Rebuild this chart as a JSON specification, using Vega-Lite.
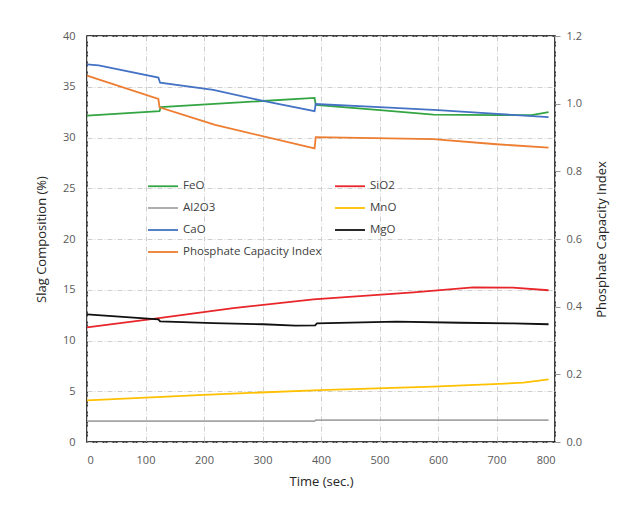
{
  "$schema": "https://vega.github.io/schema/vega-lite/v6.json",
  "width": 468,
  "height": 406,
  "autosize": {"type": "none"},
  "padding": {"left": 87, "top": 36, "right": 80, "bottom": 69},
  "background": "white",
  "config": {
    "font": "Open Sans",
    "view": {"stroke": "#000000", "strokeWidth": 1.5},
    "axis": {
      "labelColor": "#595959",
      "labelFontSize": 11,
      "titleColor": "#262626",
      "titleFontSize": 13,
      "titleFontWeight": "normal",
      "domain": false,
      "gridColor": "#cfcfcf",
      "gridDash": [5, 2, 1, 2],
      "gridWidth": 1
    }
  },
  "data": {
    "values": [
      {"s": "FeO", "t": 0, "v": 32.15},
      {"s": "FeO", "t": 124, "v": 32.6},
      {"s": "FeO", "t": 126, "v": 33.0},
      {"s": "FeO", "t": 389, "v": 33.9},
      {"s": "FeO", "t": 391, "v": 33.2},
      {"s": "FeO", "t": 501, "v": 32.7},
      {"s": "FeO", "t": 592, "v": 32.25},
      {"s": "FeO", "t": 700, "v": 32.2},
      {"s": "FeO", "t": 760, "v": 32.2},
      {"s": "FeO", "t": 789, "v": 32.5},
      {"s": "SiO2", "t": 0, "v": 11.3},
      {"s": "SiO2", "t": 110, "v": 12.1},
      {"s": "SiO2", "t": 250, "v": 13.2},
      {"s": "SiO2", "t": 387, "v": 14.05},
      {"s": "SiO2", "t": 558, "v": 14.75},
      {"s": "SiO2", "t": 660, "v": 15.24},
      {"s": "SiO2", "t": 728, "v": 15.2},
      {"s": "SiO2", "t": 789, "v": 14.95},
      {"s": "Al2O3", "t": 0, "v": 2.05},
      {"s": "Al2O3", "t": 389, "v": 2.05},
      {"s": "Al2O3", "t": 391, "v": 2.15},
      {"s": "Al2O3", "t": 789, "v": 2.15},
      {"s": "MnO", "t": 0, "v": 4.1},
      {"s": "MnO", "t": 200, "v": 4.65},
      {"s": "MnO", "t": 398, "v": 5.12},
      {"s": "MnO", "t": 592, "v": 5.45},
      {"s": "MnO", "t": 695, "v": 5.71},
      {"s": "MnO", "t": 746, "v": 5.84},
      {"s": "MnO", "t": 789, "v": 6.18},
      {"s": "CaO", "t": 0, "v": 37.2},
      {"s": "CaO", "t": 20, "v": 37.1},
      {"s": "CaO", "t": 122, "v": 35.9},
      {"s": "CaO", "t": 125, "v": 35.4},
      {"s": "CaO", "t": 216, "v": 34.7},
      {"s": "CaO", "t": 301, "v": 33.6},
      {"s": "CaO", "t": 389, "v": 32.6},
      {"s": "CaO", "t": 391, "v": 33.3},
      {"s": "CaO", "t": 500, "v": 33.0},
      {"s": "CaO", "t": 600, "v": 32.7},
      {"s": "CaO", "t": 694, "v": 32.35},
      {"s": "CaO", "t": 789, "v": 32.0},
      {"s": "MgO", "t": 0, "v": 12.58},
      {"s": "MgO", "t": 122, "v": 12.09},
      {"s": "MgO", "t": 125, "v": 11.89},
      {"s": "MgO", "t": 216, "v": 11.72},
      {"s": "MgO", "t": 301, "v": 11.6},
      {"s": "MgO", "t": 356, "v": 11.46},
      {"s": "MgO", "t": 390, "v": 11.5},
      {"s": "MgO", "t": 393, "v": 11.69},
      {"s": "MgO", "t": 529, "v": 11.85},
      {"s": "MgO", "t": 638, "v": 11.75},
      {"s": "MgO", "t": 728, "v": 11.69},
      {"s": "MgO", "t": 789, "v": 11.6},
      {"s": "Phosphate Capacity Index", "t": 0, "v": 1.083},
      {"s": "Phosphate Capacity Index", "t": 122, "v": 1.014},
      {"s": "Phosphate Capacity Index", "t": 124, "v": 0.989},
      {"s": "Phosphate Capacity Index", "t": 219, "v": 0.937},
      {"s": "Phosphate Capacity Index", "t": 389, "v": 0.868},
      {"s": "Phosphate Capacity Index", "t": 391, "v": 0.901},
      {"s": "Phosphate Capacity Index", "t": 592, "v": 0.895},
      {"s": "Phosphate Capacity Index", "t": 700, "v": 0.88},
      {"s": "Phosphate Capacity Index", "t": 789, "v": 0.87}
    ]
  },
  "encoding": {
    "x": {
      "field": "t",
      "type": "quantitative",
      "scale": {"domain": [0, 800], "nice": false},
      "axis": {
        "title": "Time (sec.)",
        "values": [0, 100, 200, 300, 400, 500, 600, 700, 800],
        "ticks": false,
        "labelPadding": 12,
        "titlePadding": 10,
        "grid": true
      }
    }
  },
  "layer": [
    {
      "transform": [{"filter": "datum.s !== 'Phosphate Capacity Index'"}],
      "mark": {"type": "line", "strokeWidth": 1.8},
      "encoding": {
        "y": {
          "field": "v",
          "type": "quantitative",
          "scale": {"domain": [0, 40], "nice": false},
          "axis": {
            "title": "Slag Composition (%)",
            "orient": "left",
            "values": [0, 5, 10, 15, 20, 25, 30, 35, 40],
            "ticks": false,
            "labelPadding": 12,
            "titlePadding": 14,
            "grid": true
          }
        },
        "color": {
          "field": "s",
          "type": "nominal",
          "scale": {
            "domain": ["FeO", "SiO2", "Al2O3", "MnO", "CaO", "MgO", "Phosphate Capacity Index"],
            "range": ["#33a543", "#e8262a", "#a5a5a5", "#ffc000", "#4472c4", "#111111", "#ed7d31"]
          },
          "legend": {
            "title": null,
            "orient": "none",
            "direction": "horizontal",
            "legendX": 60,
            "legendY": 134,
            "columns": 2,
            "symbolType": "stroke",
            "symbolSize": 900,
            "symbolStrokeWidth": 1.8,
            "labelFontSize": 11.5,
            "labelColor": "#404040",
            "labelOffset": 4,
            "rowPadding": 0,
            "columnPadding": 9
          }
        }
      }
    },
    {
      "transform": [{"filter": "datum.s === 'Phosphate Capacity Index'"}],
      "mark": {"type": "line", "strokeWidth": 1.8},
      "encoding": {
        "y": {
          "field": "v",
          "type": "quantitative",
          "scale": {"domain": [0, 1.2], "nice": false},
          "axis": {
            "title": "Phosphate Capacity Index",
            "orient": "right",
            "titleAngle": 270,
            "values": [0, 0.2, 0.4, 0.6, 0.8, 1, 1.2],
            "ticks": true,
            "tickColor": "#9a9a9a",
            "tickSize": 5,
            "labelPadding": 6,
            "titlePadding": 27,
            "grid": false
          }
        },
        "color": {"field": "s", "type": "nominal"}
      }
    }
  ],
  "resolve": {"scale": {"y": "independent"}}
}
